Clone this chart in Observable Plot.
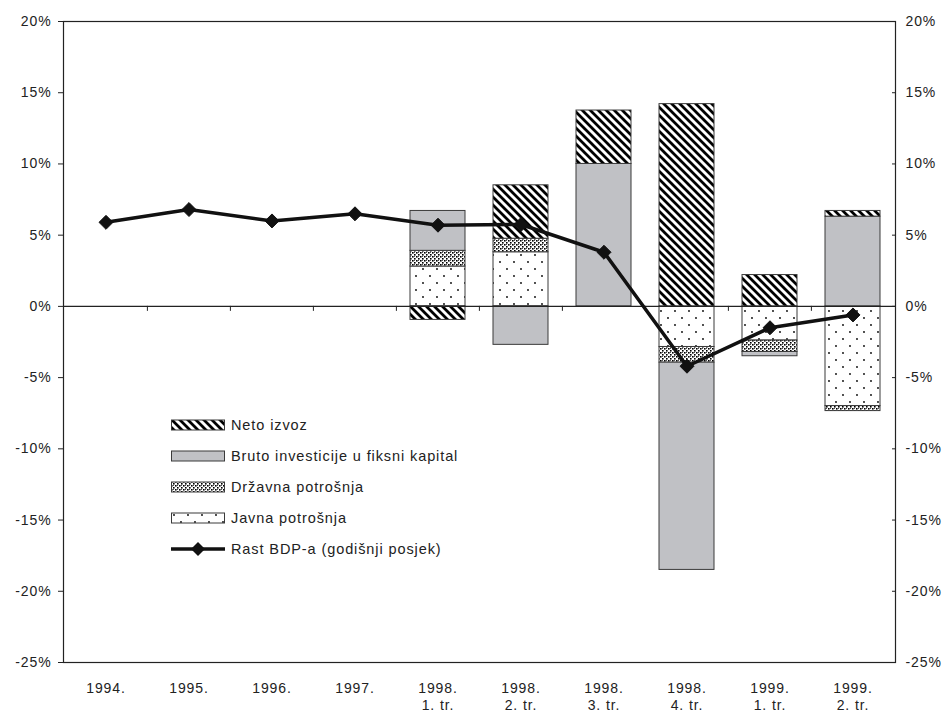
<!DOCTYPE html>
<html>
<head>
<meta charset="utf-8">
<script src="https://cdn.jsdelivr.net/npm/d3@7"></script>
<script src="https://cdn.jsdelivr.net/npm/@observablehq/plot@0.6"></script>
<style>
  html, body { margin: 0; padding: 0; background: #fff; }
  #wrap { position: relative; width: 951px; height: 715px; font-family: "Liberation Sans", Arial, sans-serif; }
  #legend { position: absolute; left: 171px; top: 409px; font-size: 14.5px; letter-spacing: 0.9px; color: #222; }
  .row { display: flex; align-items: center; height: 31px; }
  .row svg { margin-right: 6px; }
</style>
</head>
<body>
<svg width="0" height="0" style="position:absolute">
  <defs>
    <pattern id="pNeto" patternUnits="userSpaceOnUse" width="8" height="8">
      <rect width="8" height="8" fill="#fff"/>
      <path d="M-2,6 L2,10 M0,0 L8,8 M6,-2 L10,2" stroke="#000" stroke-width="2.8"/>
    </pattern>
    <pattern id="pBruto" patternUnits="userSpaceOnUse" width="4" height="4">
      <rect width="4" height="4" fill="#c0c1c5"/>
    </pattern>
    <pattern id="pDrz" patternUnits="userSpaceOnUse" width="4" height="4">
      <rect width="4" height="4" fill="#fff"/>
      <rect x="0" y="0" width="1.6" height="1.6" fill="#000"/>
      <rect x="2" y="2" width="1.6" height="1.6" fill="#000"/>
      <rect x="2" y="0" width="1" height="1" fill="#555"/>
    </pattern>
    <pattern id="pJavna" patternUnits="userSpaceOnUse" width="14" height="14">
      <rect width="14" height="14" fill="#fff"/>
      <circle cx="3" cy="3" r="0.9" fill="#000"/>
      <circle cx="10" cy="10" r="0.9" fill="#000"/>
    </pattern>
  </defs>
</svg>
<div id="wrap">
  <div id="chart"></div>
  <div id="legend"></div>
</div>
<script>
const categories = ["1994.", "1995.", "1996.", "1997.", "1998. 1. tr.", "1998. 2. tr.", "1998. 3. tr.", "1998. 4. tr.", "1999. 1. tr.", "1999. 2. tr."];
const categoryLabels = ["1994.", "1995.", "1996.", "1997.", "1998.\n1. tr.", "1998.\n2. tr.", "1998.\n3. tr.", "1998.\n4. tr.", "1999.\n1. tr.", "1999.\n2. tr."];
const seriesNames = ["Javna potrošnja", "Državna potrošnja", "Bruto investicije u fiksni kapital", "Neto izvoz"];
const legendOrder = ["Neto izvoz", "Bruto investicije u fiksni kapital", "Državna potrošnja", "Javna potrošnja"];
const lineName = "Rast BDP-a (godišnji posjek)";
// component values for the quarterly columns (1998. 1. tr. ... 1999. 2. tr.)
const barCategories = ["1998. 1. tr.", "1998. 2. tr.", "1998. 3. tr.", "1998. 4. tr.", "1999. 1. tr.", "1999. 2. tr."];
const javnaPotrosnja = [2.8, 3.8, 0, -2.85, -2.4, -7.0];
const drzavnaPotrosnja = [1.1, 0.95, 0, -1.1, -0.8, -0.35];
const brutoInvesticije = [2.8, -2.7, 10.0, -14.55, -0.3, 6.3];
const netoIzvoz = [-0.95, 3.75, 3.75, 14.2, 2.2, 0.4];
const gdpGrowth = [5.9, 6.8, 6.0, 6.5, 5.7, 5.75, 3.8, -4.2, -1.5, -0.6];
const yTicks = [20, 15, 10, 5, 0, -5, -10, -15, -20, -25];
const patterns = ["url(#pJavna)", "url(#pDrz)", "url(#pBruto)", "url(#pNeto)"];

const seriesArrays = [javnaPotrosnja, drzavnaPotrosnja, brutoInvesticije, netoIzvoz];
const bars = [];
seriesNames.forEach((s, si) => barCategories.forEach((c, ci) => bars.push({cat: c, series: s, value: seriesArrays[si][ci]})));
const line = categories.map((c, i) => ({cat: c, value: gdpGrowth[i]}));

const W = 951, H = 715, mL = 63, mR = 56, mT = 21, mB = 53;
const step = (W - mL - mR) / categories.length;
const pad = 0.34;

const chart = Plot.plot({
  width: W, height: H,
  marginLeft: mL, marginRight: mR, marginTop: mT, marginBottom: mB,
  style: {fontFamily: "Liberation Sans, Arial, sans-serif", fontSize: "14px", color: "#222", letterSpacing: "0.9px", background: "#fff"},
  x: {domain: categories, paddingInner: pad, paddingOuter: pad / 2, axis: null, label: null},
  y: {domain: [-25, 20], label: null},
  color: {domain: seriesNames, range: patterns},
  marks: [
    Plot.barY(bars, Plot.stackY({x: "cat", y: "value", fill: "series", order: seriesNames, stroke: "#3a3a3a", strokeWidth: 1})),
    Plot.ruleY([0], {stroke: "#222", strokeWidth: 1.2}),
    Plot.ruleX(categories.slice(1), {x: d => d, y1: 0, y2: -0.35, dx: -step / 2, stroke: "#222"}),
    Plot.line(line, {x: "cat", y: "value", stroke: "#111", strokeWidth: 3.5}),
    Plot.dot(line, {x: "cat", y: "value", symbol: "diamond2", r: 6.3, fill: "#111", stroke: "#111", strokeWidth: 1}),
    Plot.frame({stroke: "#222", strokeWidth: 1.2}),
    Plot.axisY({anchor: "left", ticks: yTicks, tickSize: 5, tickPadding: 7, tickFormat: d => `${d}%`, stroke: "#222", label: null}),
    Plot.axisY({anchor: "right", ticks: yTicks, tickSize: 4, dx: -4, tickFormat: () => "", stroke: "#222", label: null}),
    Plot.axisY({anchor: "right", ticks: yTicks, tickSize: 0, tickPadding: 10, tickFormat: d => `${d}%`, label: null}),
    Plot.text(categories, {x: d => d, text: (d, i) => categoryLabels[i], frameAnchor: "bottom", lineAnchor: "top", dy: 18, lineHeight: 1.25, fill: "#222"})
  ]
});
document.getElementById("chart").appendChild(chart);

// legend
const legend = document.getElementById("legend");
const patById = Object.fromEntries(seriesNames.map((s, i) => [s, patterns[i]]));
legendOrder.forEach(name => {
  const row = document.createElement("div");
  row.className = "row";
  row.innerHTML = `<svg width="54" height="12"><rect x="0.5" y="1" width="53" height="10" fill="${patById[name]}" stroke="#3a3a3a"/></svg><span>${name}</span>`;
  legend.appendChild(row);
});
const lrow = document.createElement("div");
lrow.className = "row";
lrow.innerHTML = `<svg width="54" height="16"><line x1="0" x2="54" y1="8" y2="8" stroke="#111" stroke-width="3.5"/><path d="M27,1 L34,8 L27,15 L20,8 Z" fill="#111"/></svg><span>${lineName}</span>`;
legend.appendChild(lrow);
</script>
</body>
</html>
